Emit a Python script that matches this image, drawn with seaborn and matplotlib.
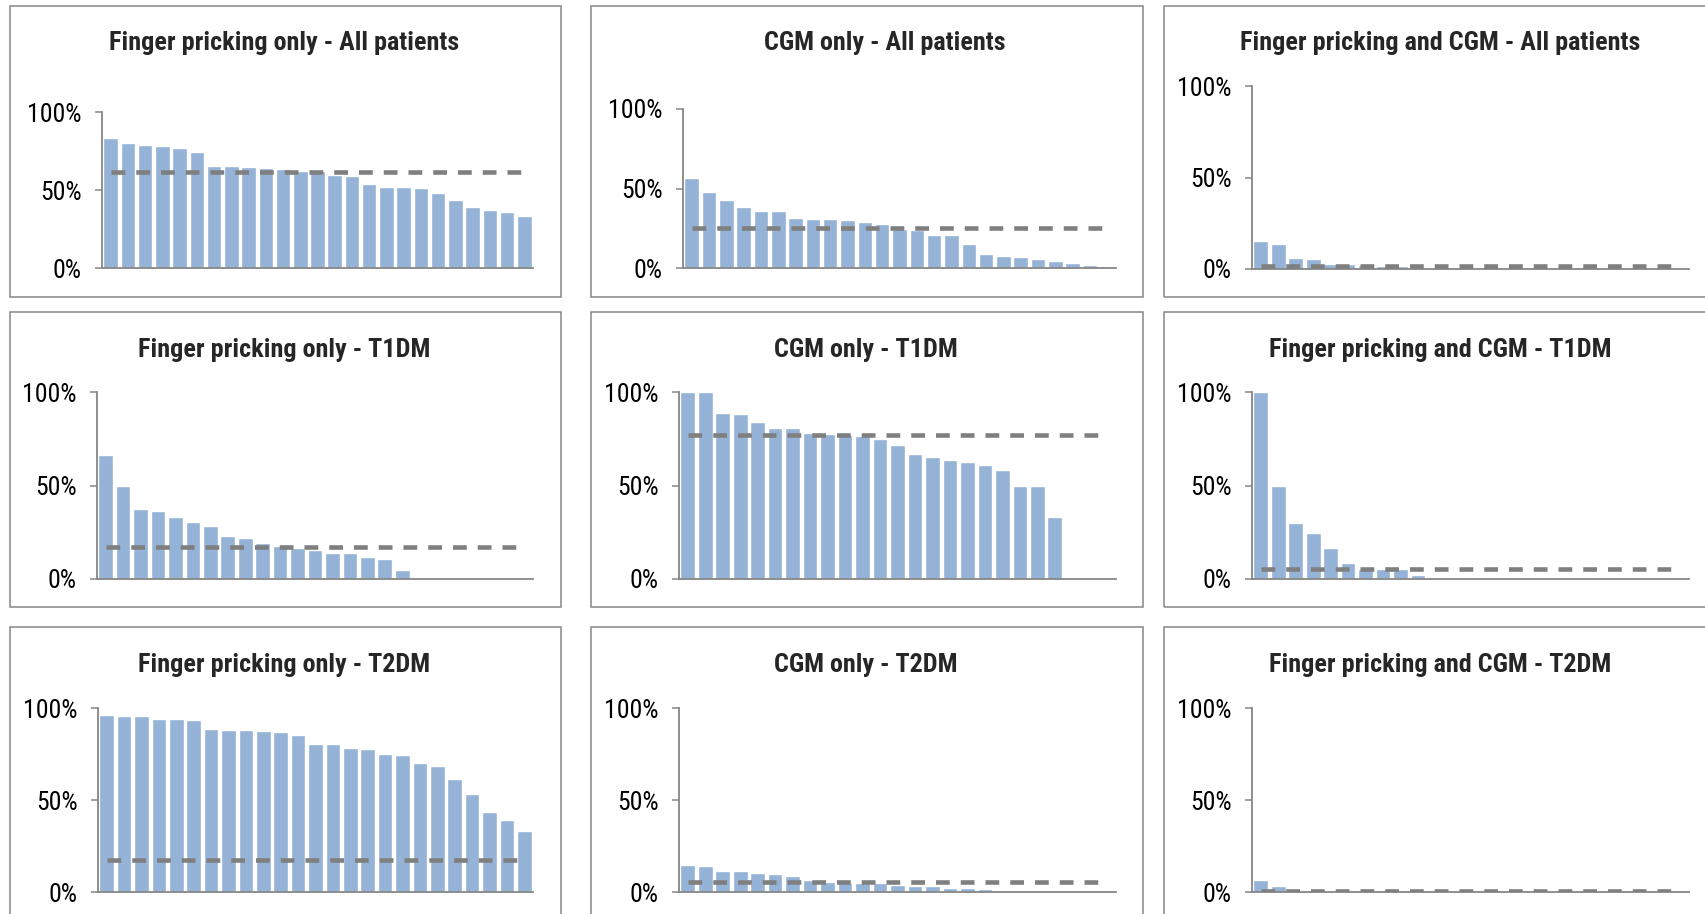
import matplotlib
matplotlib.use("Agg")
import matplotlib.pyplot as plt
from matplotlib import font_manager
from matplotlib.patches import Rectangle
import numpy as np
import pandas as pd
import seaborn as sns

N_SITES = 25

# share of patients per site (%), sites sorted high to low
fp_all = [83.4, 80.0, 79.0, 78.3, 76.8, 74.4, 65.6, 65.4, 64.7, 64.1, 63.4, 62.4, 62.2,
          59.4, 58.9, 54.0, 51.8, 51.8, 51.2, 48.0, 43.9, 39.4, 37.0, 35.9, 33.3]
cgm_all = [56.9, 47.7, 42.5, 38.3, 36.0, 35.8, 31.6, 31.0, 30.8, 30.5, 28.9, 27.8, 24.3,
           24.1, 20.9, 20.9, 14.9, 9.0, 7.3, 6.9, 5.9, 4.6, 2.9, 1.9, 0.0]
both_all = [15.1, 13.5, 6.2, 5.5, 2.9, 2.7, 2.0, 1.6, 1.5, 0.6]
fp_t1 = [66.5, 50.0, 37.3, 36.2, 33.3, 30.3, 28.5, 23.0, 21.9, 19.3, 17.5, 16.6, 15.7,
         13.7, 13.7, 11.6, 10.9, 4.8]
cgm_t1 = [100.0, 100.0, 88.9, 88.4, 84.1, 80.7, 80.7, 78.0, 77.7, 77.0, 76.4, 75.0, 71.4,
          66.6, 65.0, 63.6, 62.5, 60.7, 58.2, 50.0, 50.0, 33.2]
both_t1 = [100.0, 50.0, 30.0, 24.8, 16.6, 8.6, 5.5, 5.2, 5.2, 2.1]
fp_t2 = [96.0, 95.6, 95.6, 94.0, 94.0, 93.5, 88.6, 88.0, 87.8, 87.7, 86.8, 85.1, 80.4,
         80.2, 78.4, 77.9, 75.1, 74.4, 69.9, 68.6, 61.5, 53.5, 43.7, 39.4, 33.4]
cgm_t2 = [14.7, 14.3, 11.6, 11.3, 10.2, 9.8, 8.9, 6.4, 5.4, 5.1, 4.9, 4.7, 3.8, 3.3, 3.3,
          2.2, 2.0, 1.5]
both_t2 = [6.4, 3.4]

# overall average per panel (%)
means = [61.7, 25.3, 1.5,
         17.3, 77.1, 5.2,
         17.6, 5.3, 0.5]

titles = ["Finger pricking only - All patients", "CGM only - All patients",
          "Finger pricking and CGM - All patients",
          "Finger pricking only - T1DM", "CGM only - T1DM", "Finger pricking and CGM - T1DM",
          "Finger pricking only - T2DM", "CGM only - T2DM", "Finger pricking and CGM - T2DM"]

series = [fp_all, cgm_all, both_all, fp_t1, cgm_t1, both_t1, fp_t2, cgm_t2, both_t2]

W, H = 1706, 914
BAR = "#95B3D7"
LINE = "#7F7F7F"
GREY = "#868686"

# layout in pixels: axes (x0, x1, y100, y0), panel box (left, right, top, bottom), title (cx, baseline)
axes_px = [(102, 533, 112, 268), (683, 1116, 109, 268), (1252, 1689, 86, 269),
           (97, 533, 392, 579), (679, 1116, 392, 579), (1252, 1689, 392, 579),
           (98, 533, 708, 892), (679, 1116, 708, 892), (1252, 1689, 708, 892)]
col_box = [(10, 561), (591, 1143), (1164, 1716)]
row_box = [(6, 297), (312, 607), (627, 920)]
title_x = [284, 885, 1440, 284, 866, 1440, 284, 866, 1440]
title_base = [50, 357, 672]

sns.set_style("white")
installed = {f.name for f in font_manager.fontManager.ttflist}
narrow = [f for f in ["Liberation Sans Narrow", "Roboto Condensed", "DejaVu Sans Condensed",
                      "Roboto"] if f in installed]
plt.rcParams["font.family"] = narrow + ["Liberation Sans", "DejaVu Sans"]

fig = plt.figure(figsize=(W / 100, H / 100), dpi=100)

for c, (l, r) in enumerate(col_box):
    for rr, (t, b) in enumerate(row_box):
        fig.patches.append(Rectangle((l / W, 1 - b / H), (r - l) / W, (b - t) / H,
                                     transform=fig.transFigure, fill=False,
                                     edgecolor=GREY, linewidth=1.1))

for i, vals in enumerate(series):
    x0, x1, y100, y0 = axes_px[i]
    ax = fig.add_axes([x0 / W, 1 - y0 / H, (x1 - x0) / W, (y0 - y100) / H])
    padded = list(vals) + [0.0] * (N_SITES - len(vals))
    df = pd.DataFrame({"site": np.arange(N_SITES), "pct": padded})
    sns.barplot(data=df, x="site", y="pct", color=BAR, saturation=1, width=0.84, ax=ax)
    df["mean"] = means[i]
    sns.lineplot(data=df, x="site", y="mean", color=LINE, linewidth=3.3, ax=ax,
                 linestyle=(0, (3.0, 2.4)), zorder=5)
    ax.set_xlim(-0.5, N_SITES - 0.5)
    ax.set_ylim(0, 100)
    ax.set_yticks([0, 50, 100])
    ax.set_yticklabels(["0%", "50%", "100%"])
    ax.set_xticks([])
    ax.set_xlabel("")
    ax.set_ylabel("")
    for s in ["top", "right"]:
        ax.spines[s].set_visible(False)
    for s in ["left", "bottom"]:
        ax.spines[s].set_color(GREY)
        ax.spines[s].set_linewidth(1.3)
    ax.tick_params(axis="y", left=True, direction="out", length=4.8, width=1.1,
                   color=GREY, labelsize=18.5, pad=10, labelcolor="black")
    ax.patch.set_alpha(0)
    fig.text(title_x[i] / W, 1 - title_base[i // 3] / H, titles[i], ha="center",
             va="baseline", fontsize=18.8, fontweight="bold")

fig.savefig("out.png", dpi=100)
